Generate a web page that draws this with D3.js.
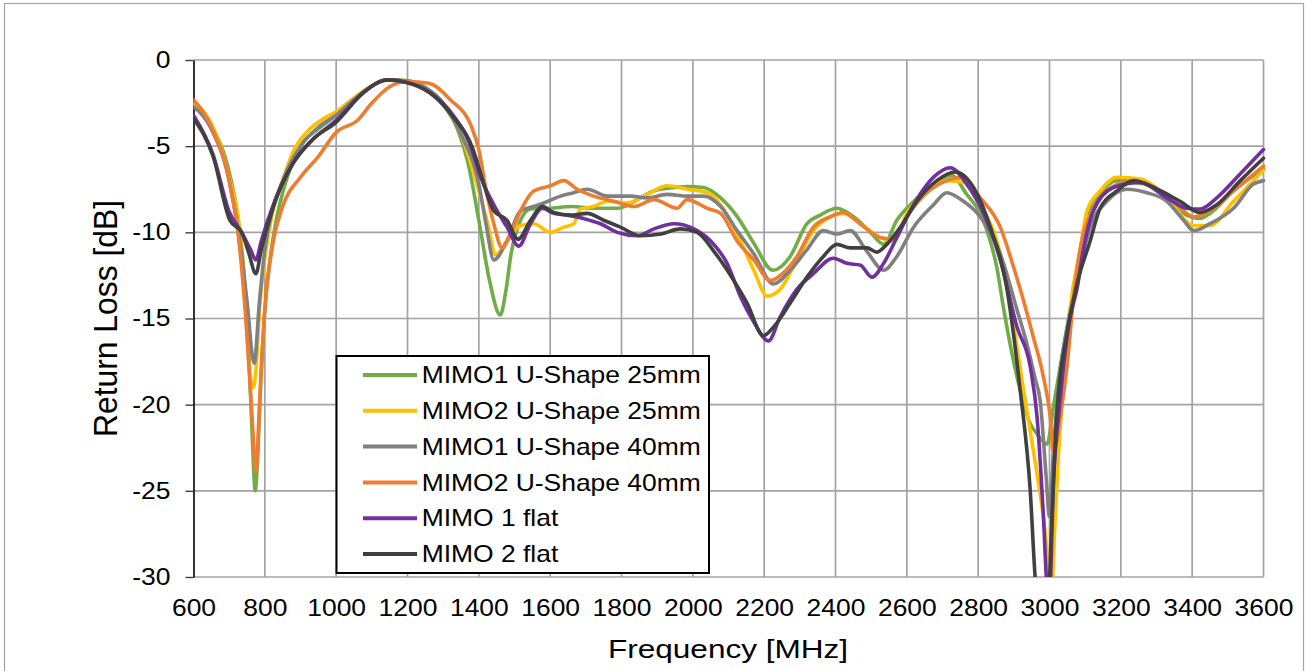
<!DOCTYPE html>
<html>
<head>
<meta charset="utf-8">
<script src="https://cdn.jsdelivr.net/npm/d3@7"></script>
<style>
body{margin:0;background:#fff}
text{font-family:"Liberation Sans",Arial,sans-serif;fill:#000}
</style>
</head>
<body>
<div class="chart"></div>
<script>
// return loss per antenna, [MHz, dB]
const mimo1U25=[[600,-2.6],[650,-3.8],[700,-6.5],[720,-8.5],[740,-12],[755,-17],[765,-22],[773,-25],[780,-23],[790,-18],[800,-14.5],[815,-11.5],[835,-9],[860,-7],[900,-5],[950,-4],[1000,-3.2],[1050,-2.3],[1100,-1.5],[1150,-1.15],[1200,-1.25],[1250,-1.7],[1300,-2.6],[1340,-4],[1370,-6],[1400,-9.3],[1430,-12.8],[1460,-14.8],[1475,-13.5],[1490,-11.3],[1517,-9.3],[1545,-8.65],[1600,-8.6],[1660,-8.5],[1720,-8.6],[1790,-8.6],[1845,-8.1],[1890,-7.6],[1950,-7.4],[1985,-7.35],[2030,-7.4],[2078,-8],[2125,-9.1],[2170,-10.6],[2225,-12.2],[2273,-11.4],[2320,-9.5],[2357,-9],[2404,-8.6],[2451,-9.1],[2498,-10],[2535,-10.7],[2572,-9.3],[2620,-8.2],[2675,-7.2],[2726,-6.7],[2768,-7.8],[2806,-8.9],[2834,-10.5],[2852,-12],[2872,-14.5],[2909,-18.4],[2946,-21.1],[2965,-21.7],[2993,-22.3],[3011,-20.1],[3030,-17.8],[3058,-14.5],[3086,-11],[3105,-9.3],[3142,-7.8],[3189,-7],[3254,-7],[3329,-8],[3376,-8.9],[3422,-9.2],[3450,-8.9],[3516,-7.6],[3600,-6.3]]

const mimo2U25=[[600,-2.5],[650,-3.7],[700,-6.8],[730,-10],[745,-14],[755,-17.5],[768,-19],[775,-18],[785,-14.5],[800,-11.5],[820,-9],[850,-7],[880,-5.3],[917,-4.2],[973,-3.3],[1000,-3],[1050,-2.2],[1100,-1.5],[1150,-1.15],[1200,-1.2],[1250,-1.6],[1300,-2.5],[1350,-4.3],[1400,-7.6],[1425,-9.5],[1447,-11.3],[1479,-10.5],[1517,-9.6],[1554,-9.5],[1601,-10],[1638,-9.7],[1666,-9.5],[1685,-8.65],[1722,-8.5],[1760,-8.2],[1816,-8.3],[1872,-7.8],[1928,-7.3],[1984,-7.5],[2040,-7.7],[2078,-8.4],[2124,-10.1],[2171,-12.2],[2208,-13.7],[2245,-13.3],[2292,-11.6],[2338,-9.9],[2385,-9.1],[2422,-8.9],[2469,-9.5],[2525,-10.3],[2563,-10.5],[2600,-8.9],[2656,-7.7],[2712,-7],[2759,-7.1],[2806,-8.4],[2862,-11.25],[2900,-15.5],[2930,-19.5],[2955,-22.7],[2983,-26.5],[3007,-30.5],[3015,-27],[3025,-23],[3039,-18.8],[3058,-14.4],[3086,-11],[3105,-8.75],[3142,-7.6],[3189,-6.8],[3254,-6.9],[3329,-8],[3404,-9.6],[3450,-9.6],[3516,-8.2],[3600,-6.4]]

const mimo1U40=[[600,-2.7],[650,-4],[700,-7],[730,-10.5],[750,-14],[770,-17.6],[785,-14],[800,-11],[820,-8.8],[850,-7],[900,-5],[950,-3.9],[1000,-3.2],[1050,-2.3],[1100,-1.5],[1150,-1.15],[1200,-1.2],[1250,-1.6],[1300,-2.5],[1350,-4.3],[1400,-7.2],[1420,-9.5],[1442,-11.6],[1479,-10.5],[1517,-8.75],[1554,-8.5],[1582,-8.3],[1629,-7.9],[1666,-7.7],[1704,-7.5],[1760,-7.9],[1825,-7.9],[1872,-8],[1928,-7.8],[1984,-7.9],[2031,-7.9],[2078,-8.5],[2124,-9.9],[2171,-11.25],[2226,-13],[2273,-12.2],[2320,-11],[2366,-9.9],[2404,-10.1],[2441,-9.9],[2488,-11.1],[2535,-12.2],[2572,-11.4],[2619,-9.7],[2675,-8.4],[2712,-7.7],[2759,-8.2],[2806,-9.1],[2862,-11.25],[2909,-14.5],[2937,-16.5],[2960,-18.5],[2974,-19.8],[2990,-24],[3000,-26.5],[3010,-23],[3025,-19],[3045,-16],[3067,-13.9],[3114,-9.7],[3161,-8.2],[3217,-7.5],[3273,-7.7],[3329,-8.2],[3376,-9.3],[3404,-9.9],[3450,-9.5],[3516,-8.6],[3572,-7.2],[3600,-7]]

const mimo2U40=[[600,-2.3],[655,-4.1],[702,-7.2],[730,-11],[750,-16],[765,-21],[775,-23.9],[785,-20],[800,-14.5],[824,-10.5],[850,-8.5],[900,-6.8],[950,-5.6],[1000,-4.2],[1060,-3.5],[1100,-2.5],[1150,-1.55],[1200,-1.25],[1260,-1.35],[1320,-2.3],[1380,-3.9],[1400,-5.2],[1420,-7.5],[1442,-9.5],[1465,-10.9],[1489,-10.1],[1517,-8.75],[1554,-7.6],[1601,-7.3],[1638,-7],[1676,-7.5],[1722,-7.9],[1779,-8.2],[1835,-8.5],[1891,-8.1],[1956,-8.6],[1984,-8.1],[2040,-8.6],[2078,-8.9],[2124,-10.5],[2171,-11.6],[2217,-12.8],[2245,-12.5],[2292,-11.4],[2338,-9.7],[2385,-9.1],[2422,-8.85],[2469,-9.5],[2525,-10.3],[2563,-10.4],[2600,-9.1],[2656,-7.7],[2712,-7],[2749,-6.8],[2806,-8],[2862,-9.7],[2899,-12],[2937,-14.7],[2955,-16.1],[2983,-18.4],[3002,-20.7],[3011,-22.8],[3030,-20.7],[3049,-17.8],[3067,-13.9],[3086,-11],[3123,-8.6],[3161,-7.6],[3217,-7.1],[3273,-7.2],[3348,-8.2],[3404,-9.1],[3450,-8.75],[3516,-7.6],[3600,-6.15]]

const mimo1Flat=[[600,-3.2],[655,-5.5],[700,-8.8],[735,-10],[760,-11],[775,-11.6],[790,-10.5],[824,-8.4],[879,-6],[935,-4.6],[1000,-3.5],[1076,-1.9],[1142,-1.15],[1198,-1.3],[1263,-1.9],[1328,-3.2],[1384,-5.4],[1400,-6.5],[1442,-8.4],[1479,-9.7],[1512,-10.8],[1545,-9.5],[1578,-8.6],[1610,-8.9],[1648,-9],[1694,-9.2],[1741,-9.5],[1788,-10],[1844,-10.2],[1891,-9.8],[1947,-9.5],[2003,-9.8],[2050,-10.5],[2096,-11.8],[2134,-13.75],[2171,-15.2],[2212,-16.3],[2245,-14.9],[2292,-13.3],[2338,-12.4],[2394,-11.5],[2432,-11.8],[2469,-11.9],[2502,-12.6],[2535,-11.8],[2572,-10.3],[2619,-8.4],[2675,-6.8],[2722,-6.25],[2768,-7.2],[2815,-8.9],[2862,-11.6],[2909,-15.5],[2946,-17.8],[2965,-20.7],[2983,-26.5],[2993,-30.5],[3000,-31],[3011,-24.6],[3030,-19.7],[3058,-14.9],[3077,-13.3],[3095,-11],[3123,-8.75],[3179,-7.4],[3254,-7.1],[3329,-8],[3385,-8.6],[3422,-8.65],[3469,-8],[3535,-6.6],[3600,-5.2]]

const mimo2Flat=[[600,-3.4],[655,-5.6],[702,-9.3],[735,-10],[755,-11.2],[775,-12.4],[790,-11],[824,-8.5],[879,-6],[935,-4.6],[1000,-3.6],[1076,-1.9],[1142,-1.16],[1198,-1.3],[1263,-1.9],[1328,-3.3],[1384,-5.2],[1400,-6.25],[1442,-8.75],[1479,-9.3],[1510,-10.4],[1545,-9.3],[1578,-8.5],[1610,-8.85],[1657,-9],[1704,-8.9],[1750,-9.3],[1797,-9.7],[1853,-10.2],[1910,-10.1],[1965,-9.8],[2012,-10],[2059,-11.1],[2115,-12.8],[2152,-14.1],[2198,-16],[2226,-15.5],[2273,-14.1],[2320,-12.6],[2366,-11.4],[2404,-10.7],[2441,-10.9],[2488,-10.9],[2516,-11.15],[2544,-10.7],[2582,-9.7],[2628,-8.2],[2684,-7],[2736,-6.5],[2787,-7.4],[2834,-9.7],[2880,-13.2],[2899,-15.9],[2918,-19.2],[2946,-25],[2960,-30.1],[2975,-33],[2995,-32],[3007,-26.5],[3020,-20.7],[3049,-15.9],[3077,-13],[3114,-10.5],[3142,-8.6],[3189,-7.6],[3236,-7],[3292,-7.4],[3366,-8.2],[3422,-8.85],[3469,-8.4],[3535,-7],[3600,-5.7]]

const seriesNames=['MIMO1 U-Shape 25mm','MIMO2 U-Shape 25mm','MIMO1 U-Shape 40mm','MIMO2 U-Shape 40mm','MIMO 1 flat','MIMO 2 flat']
const seriesData=[mimo1U25,mimo2U25,mimo1U40,mimo2U40,mimo1Flat,mimo2Flat]
const colors=['#70ad47','#ffc000','#808080','#ed7d31','#7030a0','#404040']
const xTicks=d3.range(600,3601,200)
const yTicks=[0,-5,-10,-15,-20,-25,-30]

const W=1307,H=671
const sx=1.15 // text in the picture is a bit wide

const svg=d3.select('.chart').append('svg')
	.attr('width',W)
	.attr('height',H)

svg.append('rect')
	.attr('x',4.5).attr('y',3.5)
	.attr('width',1299).attr('height',720)
	.attr('fill','#fff')
	.attr('stroke','#a6a6a6')
	.attr('stroke-width',1.2)

const x=d3.scaleLinear().domain([600,3600]).range([193.5,1263.5])
const y=d3.scaleLinear().domain([-30,0]).range([577,60])

// grid
svg.append('g').selectAll('line')
	.data(xTicks.slice(1))
	.join('line')
	.attr('x1',d=>x(d)).attr('x2',d=>x(d))
	.attr('y1',y(0)).attr('y2',y(-30))
	.attr('stroke','#a3a3a3')
	.attr('stroke-width',1.7)

svg.append('g').selectAll('line')
	.data(yTicks)
	.join('line')
	.attr('x1',x(600)).attr('x2',x(3600))
	.attr('y1',d=>y(d)).attr('y2',d=>y(d))
	.attr('stroke','#a3a3a3')
	.attr('stroke-width',1.7)

// axes
const yAxis=svg.append('g')
	.attr('transform',`translate(${x(600)},0)`)
	.call(d3.axisLeft(y).tickValues(yTicks).tickSizeInner(8).tickSizeOuter(0).tickPadding(12).tickFormat(d=>String(d)))
yAxis.select('.domain').attr('stroke','#000').attr('stroke-width',1.6)
yAxis.selectAll('.tick line').attr('stroke','#404040').attr('stroke-width',1.4)
yAxis.selectAll('text')
	.attr('font-size',23).attr('font-family','"Liberation Sans",Arial,sans-serif')
	.attr('fill','#000')
	.attr('transform',`scale(${sx},1)`)

const xAxis=svg.append('g')
	.attr('transform',`translate(0,${y(-30)})`)
	.call(d3.axisBottom(x).tickValues(xTicks).tickSize(0).tickPadding(23).tickFormat(d=>String(d)))
xAxis.select('.domain').remove()
xAxis.selectAll('text')
	.attr('font-size',23).attr('font-family','"Liberation Sans",Arial,sans-serif')
	.attr('fill','#000')
	.attr('transform',`scale(${sx},1)`)

// lines
svg.append('clipPath').attr('id','plot')
	.append('rect')
	.attr('x',x(600)).attr('y',y(0)-4)
	.attr('width',x(3600)-x(600)+4).attr('height',y(-30)-y(0)+4)

const line=d3.line()
	.x(d=>x(d[0]))
	.y(d=>y(d[1]))
	.curve(d3.curveMonotoneX)

svg.append('g').attr('clip-path','url(#plot)')
	.selectAll('path')
	.data(seriesData)
	.join('path')
	.attr('d',line)
	.attr('fill','none')
	.attr('stroke',(d,i)=>colors[i])
	.attr('stroke-width',3.6)
	.attr('stroke-linejoin','round')
	.attr('stroke-linecap','round')

// legend
const legend=svg.append('g')
legend.append('rect')
	.attr('x',336.5).attr('y',356)
	.attr('width',372.5).attr('height',217)
	.attr('fill','#fff')
	.attr('stroke','#000')
	.attr('stroke-width',2)

const rowY=i=>375+i*35.8
legend.selectAll('line')
	.data(seriesNames)
	.join('line')
	.attr('x1',363).attr('x2',417)
	.attr('y1',(d,i)=>rowY(i)).attr('y2',(d,i)=>rowY(i))
	.attr('stroke',(d,i)=>colors[i])
	.attr('stroke-width',4)

legend.selectAll('text')
	.data(seriesNames)
	.join('text')
	.attr('transform',(d,i)=>`translate(421.7,${rowY(i)}) scale(${sx},1)`)
	.attr('dy','0.36em')
	.attr('font-size',23)
	.text(d=>d)

// titles
svg.append('text')
	.attr('x',728).attr('y',658)
	.attr('text-anchor','middle')
	.attr('font-size',26)
	.attr('textLength',240)
	.attr('lengthAdjust','spacingAndGlyphs')
	.text('Frequency [MHz]')

svg.append('text')
	.attr('transform','translate(117,318.5) scale(1.08,1) rotate(-90)')
	.attr('text-anchor','middle')
	.attr('font-size',30)
	.attr('textLength',237)
	.attr('lengthAdjust','spacingAndGlyphs')
	.text('Return Loss [dB]')
</script>
</body>
</html>
